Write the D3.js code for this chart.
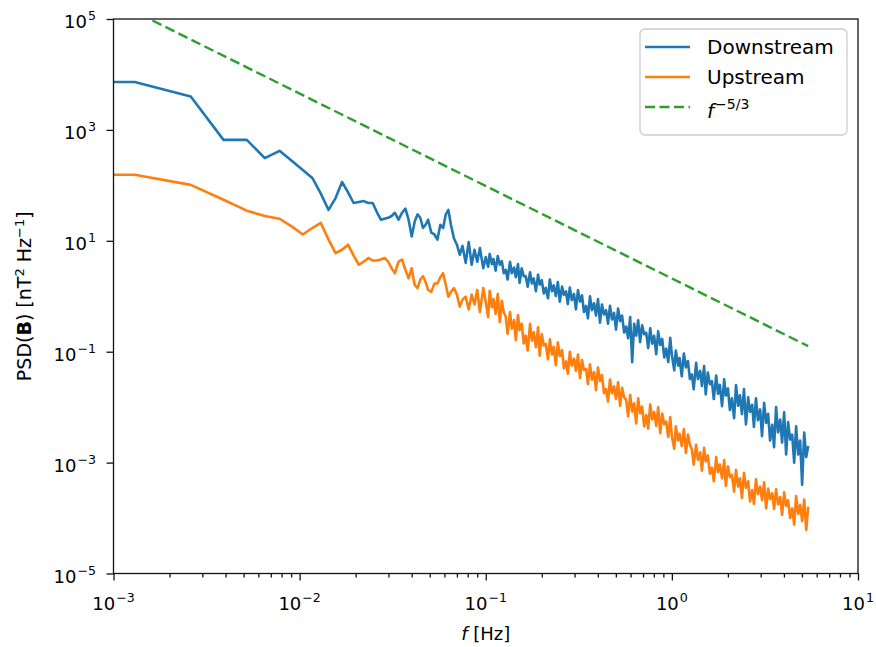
<!DOCTYPE html>
<html><head><meta charset="utf-8">
<script src="https://cdn.jsdelivr.net/npm/d3@7"></script>
<style>body{margin:0;background:#fff} text{font-family:"DejaVu Sans",sans-serif;fill:#000}</style>
</head><body><svg id="c" width="876" height="647"></svg>
<script>
// ---- data ----
const freq = [
 0.001, 0.0013, 0.0026, 0.0039, 0.0052, 0.0065, 0.0078, 0.0091, 0.0104, 0.0117, 0.013, 0.0143, 0.0156, 0.0169, 0.0182, 0.0195, 0.0208, 0.0221, 0.0234, 0.0247, 0.026, 0.0273, 0.0286, 0.0299, 0.0312,
 0.0325, 0.034, 0.0355, 0.037, 0.0385, 0.04, 0.0415, 0.043, 0.0445, 0.046,
 0.0475, 0.049, 0.051, 0.053, 0.055, 0.057, 0.059, 0.061, 0.063, 0.065,
 0.0675, 0.07, 0.0725, 0.075, 0.078, 0.081, 0.084, 0.087, 0.09, 0.093,
 0.097,
 0.1, 0.103, 0.105, 0.108, 0.11, 0.113, 0.116, 0.119, 0.122, 0.125,
 0.128, 0.131, 0.135, 0.138, 0.142, 0.145, 0.149, 0.152, 0.156, 0.16,
 0.164, 0.168, 0.173, 0.177, 0.181, 0.186, 0.191, 0.195, 0.2, 0.205,
 0.21, 0.216, 0.221, 0.227, 0.232, 0.238, 0.244, 0.25, 0.257, 0.263,
 0.27, 0.276, 0.283, 0.29, 0.298, 0.305, 0.313, 0.321, 0.329, 0.337,
 0.346, 0.354, 0.363, 0.372, 0.382, 0.391, 0.401, 0.411, 0.421, 0.432,
 0.443, 0.454, 0.465, 0.477, 0.489, 0.501, 0.514, 0.527, 0.54, 0.554,
 0.568, 0.582, 0.597, 0.612, 0.627, 0.643, 0.659, 0.675, 0.692, 0.71,
 0.728, 0.746, 0.765, 0.784, 0.803, 0.824, 0.844, 0.866, 0.887, 0.91,
 0.932, 0.956, 0.98,
 1.0, 1.03, 1.05, 1.08, 1.1, 1.13, 1.16, 1.19, 1.22, 1.25,
 1.28, 1.31, 1.35, 1.38, 1.42, 1.45, 1.49, 1.52, 1.56, 1.6,
 1.64, 1.68, 1.73, 1.77, 1.81, 1.86, 1.91, 1.95, 2.0, 2.05,
 2.1, 2.16, 2.21, 2.27, 2.32, 2.38, 2.44, 2.5, 2.57, 2.63,
 2.7, 2.76, 2.83, 2.9, 2.98, 3.05, 3.13, 3.21, 3.29, 3.37,
 3.46, 3.54, 3.63, 3.72, 3.82, 3.91, 4.01, 4.11, 4.21, 4.32,
 4.43, 4.54, 4.65, 4.77, 4.89, 5.01, 5.14, 5.27, 5.4
];
const downstream = [
 7300, 7300, 4000, 660, 660, 310, 420, 275, 190, 136, 71, 36, 59, 115, 75, 48, 50, 52, 48, 48, 33, 24, 25, 26, 28,
 32, 24, 32, 38, 24, 12, 22, 30, 26, 17,
 19.5, 24, 14, 13, 10.5, 19.5, 17, 30, 36, 19.5,
 11, 8.5, 5.6, 8.1, 4.0, 9.5, 3.7, 6.9, 4.2, 7.4,
 3.2,
 5.1, 3.4, 5.8, 3.8, 4.7, 2.9, 5.3, 3.7, 4.3, 2.6,
 3.0, 2.0, 4.2, 2.6, 3.3, 2.2, 3.8, 1.74, 3.2, 2.3,
 2.3, 1.48, 2.7, 1.7, 2.1, 1.23, 2.45, 1.62, 1.95, 1.12,
 1.42, 0.92, 2.0, 1.23, 1.57, 1.01, 1.81, 0.80, 1.49, 1.06,
 1.22, 0.72, 1.44, 0.85, 1.10, 0.58, 1.29, 0.80, 1.04, 0.52,
 0.67, 0.40, 1.0, 0.56, 0.75, 0.45, 0.89, 0.335, 0.71, 0.47,
 0.56, 0.32, 0.67, 0.38, 0.50, 0.25, 0.60, 0.355, 0.45, 0.22,
 0.285, 0.175, 0.42, 0.065, 0.32, 0.195, 0.37, 0.149, 0.30, 0.206,
 0.22, 0.116, 0.265, 0.14, 0.193, 0.090, 0.233, 0.132, 0.17, 0.079,
 0.114, 0.065, 0.178,
 0.087, 0.046, 0.105, 0.056, 0.077, 0.036, 0.093, 0.052, 0.068, 0.032,
 0.039, 0.021, 0.063, 0.032, 0.045, 0.024, 0.055, 0.017, 0.042, 0.026,
 0.0295, 0.014, 0.037, 0.0175, 0.0254, 0.0104, 0.0318, 0.0162, 0.0219, 0.0089,
 0.0145, 0.0063, 0.0251, 0.0106, 0.0163, 0.0075, 0.0211, 0.0049, 0.015, 0.0082,
 0.011, 0.0044, 0.0145, 0.0058, 0.0091, 0.003, 0.012, 0.0052, 0.0076, 0.0025,
 0.0048, 0.0019, 0.01, 0.0035, 0.006, 0.0023, 0.0081, 0.0014, 0.0054, 0.0026,
 0.0032, 0.001, 0.0045, 0.0014, 0.0025, 0.0004, 0.0035, 0.00126, 0.002
];
const upstream = [
 155, 155, 102, 55, 35, 28, 25, 18, 13, 17, 21, 10.5, 6.0, 6.9, 8.5, 5.4, 3.7, 4.2, 4.9, 4.4, 4.4, 4.6, 4.9, 4.2, 3.2,
 2.6, 4.2, 4.6, 3.0, 2.1, 3.2, 1.6, 1.4, 2.0, 2.3,
 1.8, 1.3, 1.2, 1.7, 1.7, 2.2, 2.6, 1.6, 0.98, 1.2,
 1.4, 1.07, 0.65, 0.87, 0.98, 0.58, 1.07, 0.71, 1.3, 0.52,
 1.4,
 0.78, 0.42, 1.26, 0.63, 0.89, 0.48, 1.10, 0.34, 0.83, 0.51,
 0.43, 0.21, 0.52, 0.26, 0.37, 0.162, 0.46, 0.245, 0.32, 0.141,
 0.195, 0.105, 0.32, 0.158, 0.224, 0.12, 0.275, 0.085, 0.209, 0.129,
 0.138, 0.073, 0.167, 0.089, 0.122, 0.057, 0.147, 0.083, 0.107, 0.05,
 0.067, 0.04, 0.1, 0.056, 0.075, 0.045, 0.089, 0.0335, 0.071, 0.047,
 0.049, 0.026, 0.059, 0.0314, 0.043, 0.0202, 0.052, 0.0295, 0.038, 0.0178,
 0.0211, 0.0126, 0.0316, 0.0178, 0.0237, 0.0141, 0.0282, 0.0106, 0.0224, 0.015,
 0.0135, 0.0068, 0.0166, 0.0083, 0.0117, 0.0051, 0.0145, 0.0078, 0.0102, 0.0045,
 0.0072, 0.0041, 0.0112, 0.006, 0.0082, 0.0046, 0.0099, 0.0034, 0.0077, 0.0049,
 0.0055, 0.0029, 0.0066,
 0.003, 0.00178, 0.0045, 0.0025, 0.0033, 0.002, 0.004, 0.0015, 0.0032, 0.0021,
 0.00174, 0.00092, 0.0021, 0.00112, 0.00153, 0.00072, 0.00185, 0.00105, 0.00135, 0.00063,
 0.00081, 0.00046, 0.00126, 0.00067, 0.00092, 0.00052, 0.00111, 0.00038, 0.00086, 0.00055,
 0.0006, 0.0003, 0.00074, 0.00037, 0.00052, 0.00023, 0.00065, 0.00035, 0.00046, 0.0002,
 0.00032, 0.00018, 0.0005, 0.00027, 0.00037, 0.00021, 0.00044, 0.00015, 0.00034, 0.00022,
 0.00028, 0.000146, 0.00033, 0.000177, 0.00024, 0.000114, 0.00029, 0.000166, 0.00021, 0.0001,
 0.00015, 0.000076, 0.00025, 0.000119, 0.000173, 0.000088, 0.000216, 0.000061, 0.00016
];
const refFreq = [0.001, 5.4];          // f^-5/3 guide endpoints
const refPSD = [2.1e5, 0.126];
const xTicks = [1e-3, 1e-2, 1e-1, 1, 10];
const xTickExp = ["\u22123", "\u22122", "\u22121", "0", "1"];
const yTicks = [1e5, 1e3, 1e1, 1e-1, 1e-3, 1e-5];
const yTickExp = ["5", "3", "1", "\u22121", "\u22123", "\u22125"];
const seriesNames = ["Downstream", "Upstream"];
const seriesColors = ["#1f77b4", "#ff7f0e"];
const refColor = "#2ca02c";

// ---- layout ----
const L = 113.5, R = 858, T = 19, B = 573.5;
const svg = d3.select("#c");
const x = d3.scaleLog().domain([1e-3, 10]).range([L, R]);
const y = d3.scaleLog().domain([1e-5, 1e5]).range([B, T]);

svg.append("defs").append("clipPath").attr("id", "clip")
  .append("rect").attr("x", L).attr("y", T).attr("width", R - L).attr("height", B - T);

const line = d3.line().x(d => x(d[0])).y(d => y(d[1]));
const plot = svg.append("g").attr("clip-path", "url(#clip)");

[downstream, upstream].forEach((vals, i) => {
  const n = Math.min(freq.length, vals.length);
  const pts = d3.range(n).map(k => [freq[k], vals[k]]);
  plot.append("path").datum(pts).attr("d", line)
    .attr("fill", "none").attr("stroke", seriesColors[i])
    .attr("stroke-width", 2.6).attr("stroke-linejoin", "round");
});
plot.append("path").datum(d3.zip(refFreq, refPSD)).attr("d", line)
  .attr("fill", "none").attr("stroke", refColor).attr("stroke-width", 2.4)
  .attr("stroke-dasharray", "10,4.5");

// ---- axes ----
const gx = svg.append("g").attr("transform", `translate(0,${B})`);
gx.call(d3.axisBottom(x).tickValues(x.ticks().filter(v => !xTicks.includes(v) && v > 1e-3 && v < 10))
  .tickSize(4).tickFormat(""));
gx.call(g => g.select(".domain").remove());
const gx2 = svg.append("g").attr("transform", `translate(0,${B})`);
gx2.call(d3.axisBottom(x).tickValues(xTicks).tickSize(7).tickFormat(""));
gx2.call(g => g.select(".domain").remove());
const gy = svg.append("g").attr("transform", `translate(${L},0)`);
gy.call(d3.axisLeft(y).tickValues(yTicks).tickSize(7).tickFormat(""));
gy.call(g => g.select(".domain").remove());
svg.selectAll(".tick line").attr("stroke", "#111").attr("stroke-width", 1.3);

// frame
svg.append("rect").attr("x", L).attr("y", T).attr("width", R - L).attr("height", B - T)
  .attr("fill", "none").attr("stroke", "#111").attr("stroke-width", 1.3);

// tick labels
xTicks.forEach((v, i) => {
  const t = svg.append("text").attr("x", x(v)).attr("y", 610).attr("text-anchor", "middle").style("font-size", "18px");
  t.append("tspan").text("10");
  t.append("tspan").attr("dy", -8).attr("dx", 1).style("font-size", "12.6px").text(xTickExp[i]);
});
yTicks.forEach((v, i) => {
  const t = svg.append("text").attr("x", 96).attr("y", y(v) + 9).attr("text-anchor", "end").style("font-size", "18px");
  t.append("tspan").text("10");
  t.append("tspan").attr("dy", -8).attr("dx", 1).style("font-size", "12.6px").text(yTickExp[i]);
});

// axis labels
const xl = svg.append("text").attr("x", (L + R) / 2).attr("y", 640).attr("text-anchor", "middle").style("font-size", "18px");
xl.append("tspan").style("font-style", "italic").text("f");
xl.append("tspan").text(" [Hz]");

const yl = svg.append("text").attr("transform", `translate(31,${(T + B) / 2}) rotate(-90)`)
  .attr("text-anchor", "middle").style("font-size", "19px");
yl.append("tspan").text("PSD(");
yl.append("tspan").style("font-weight", "bold").text("B");
yl.append("tspan").text(") [nT");
yl.append("tspan").attr("dy", -7).style("font-size", "13px").text("2");
yl.append("tspan").attr("dy", 7).text(" Hz");
yl.append("tspan").attr("dy", -7).style("font-size", "13px").text("\u22121");
yl.append("tspan").attr("dy", 7).text("]");

// ---- legend ----
const lg = svg.append("g");
lg.append("rect").attr("x", 640).attr("y", 29).attr("width", 207).attr("height", 106).attr("rx", 5)
  .attr("fill", "#fff").attr("fill-opacity", 0.8).attr("stroke", "#cccccc").attr("stroke-width", 1.3);
const rows = [47, 77, 107];
seriesNames.forEach((name, i) => {
  lg.append("line").attr("x1", 645).attr("x2", 690).attr("y1", rows[i]).attr("y2", rows[i])
    .attr("stroke", seriesColors[i]).attr("stroke-width", 2.4);
  lg.append("text").attr("x", 707).attr("y", rows[i] + 7).style("font-size", "20px").text(name);
});
lg.append("line").attr("x1", 645).attr("x2", 690).attr("y1", rows[2]).attr("y2", rows[2])
  .attr("stroke", refColor).attr("stroke-width", 2.4).attr("stroke-dasharray", "10,4.5");
const rt = lg.append("text").attr("x", 707).attr("y", rows[2] + 11).style("font-size", "20px");
rt.append("tspan").style("font-style", "italic").text("f");
rt.append("tspan").attr("dy", -9).attr("dx", 1).style("font-size", "14px").text("\u22125/3");
</script></body></html>
